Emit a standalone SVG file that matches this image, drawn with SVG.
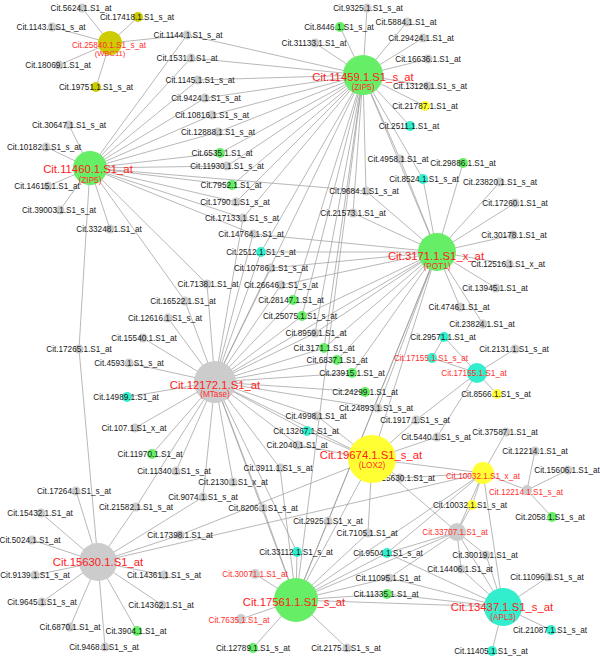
<svg xmlns="http://www.w3.org/2000/svg" width="600" height="657" viewBox="0 0 600 657">
<style>
text{font-family:"Liberation Sans",Arial,sans-serif;font-size:8.2px;fill:#1a1a1a;text-anchor:middle}
text.r{fill:#ff3030}
text.s{font-size:7.6px}
text.h{fill:#ff2020;font-size:11.3px}
.gr circle{fill:#cccccc}
.gn circle{fill:#66ee66}
.cy circle{fill:#33eecc}
.ye circle{fill:#ffff33}
.ol circle{fill:#cccc00}
#connectors line{stroke:#999;stroke-width:0.7}
</style>
<rect width="600" height="657" fill="#fff"/>
<g id="connectors">
<line x1="110" y1="43" x2="82" y2="8"/><line x1="110" y1="43" x2="138" y2="17"/><line x1="110" y1="43" x2="52" y2="27"/><line x1="110" y1="43" x2="59" y2="65"/><line x1="110" y1="43" x2="96" y2="87"/><line x1="110" y1="43" x2="187" y2="35"/>
<line x1="363" y1="75" x2="367" y2="8"/><line x1="363" y1="75" x2="340" y2="27"/><line x1="363" y1="75" x2="315" y2="43"/><line x1="363" y1="75" x2="407" y2="22"/><line x1="363" y1="75" x2="423" y2="38"/><line x1="363" y1="75" x2="428" y2="59"/><line x1="363" y1="75" x2="428" y2="86"/><line x1="363" y1="75" x2="425" y2="106"/><line x1="363" y1="75" x2="410" y2="126"/>
<line x1="363" y1="75" x2="187" y2="35"/><line x1="363" y1="75" x2="191" y2="58"/><line x1="363" y1="75" x2="198" y2="80"/><line x1="363" y1="75" x2="205" y2="98"/><line x1="363" y1="75" x2="212" y2="115"/><line x1="363" y1="75" x2="218" y2="132"/><line x1="363" y1="75" x2="220" y2="153"/><line x1="363" y1="75" x2="227" y2="166"/><line x1="363" y1="75" x2="232" y2="185"/><line x1="363" y1="75" x2="236" y2="202"/><line x1="363" y1="75" x2="243" y2="218"/>
<line x1="363" y1="75" x2="366" y2="191"/><line x1="363" y1="75" x2="400" y2="159"/><line x1="363" y1="75" x2="423" y2="179"/><line x1="363" y1="75" x2="353" y2="213"/><line x1="363" y1="75" x2="261" y2="252"/><line x1="363" y1="75" x2="293" y2="300"/><line x1="363" y1="75" x2="302" y2="316"/><line x1="363" y1="75" x2="315" y2="333"/><line x1="363" y1="75" x2="324" y2="348"/><line x1="363" y1="75" x2="215" y2="382"/><line x1="363" y1="75" x2="437" y2="252"/><line x1="363" y1="75" x2="296" y2="600"/>
<line x1="90" y1="168" x2="69" y2="125"/><line x1="90" y1="168" x2="46" y2="147"/><line x1="90" y1="168" x2="48" y2="186"/><line x1="90" y1="168" x2="60" y2="210"/><line x1="90" y1="168" x2="110" y2="229"/><line x1="90" y1="168" x2="79" y2="349"/><line x1="79" y1="349" x2="98" y2="562"/>
<line x1="90" y1="168" x2="187" y2="35"/><line x1="90" y1="168" x2="191" y2="58"/><line x1="90" y1="168" x2="198" y2="80"/><line x1="90" y1="168" x2="205" y2="98"/><line x1="90" y1="168" x2="212" y2="115"/><line x1="90" y1="168" x2="218" y2="132"/><line x1="90" y1="168" x2="220" y2="153"/><line x1="90" y1="168" x2="227" y2="166"/><line x1="90" y1="168" x2="232" y2="185"/><line x1="90" y1="168" x2="236" y2="202"/><line x1="90" y1="168" x2="243" y2="218"/><line x1="90" y1="168" x2="253" y2="234"/><line x1="90" y1="168" x2="366" y2="191"/><line x1="90" y1="168" x2="207" y2="284"/><line x1="90" y1="168" x2="185" y2="301"/>
<line x1="437" y1="252" x2="400" y2="159"/><line x1="437" y1="252" x2="423" y2="179"/><line x1="437" y1="252" x2="463" y2="163"/><line x1="437" y1="252" x2="500" y2="182"/><line x1="437" y1="252" x2="515" y2="203"/><line x1="437" y1="252" x2="513" y2="235"/><line x1="437" y1="252" x2="509" y2="264"/><line x1="437" y1="252" x2="496" y2="288"/><line x1="437" y1="252" x2="460" y2="307"/><line x1="437" y1="252" x2="483" y2="324"/><line x1="437" y1="252" x2="353" y2="213"/><line x1="437" y1="252" x2="366" y2="191"/>
<line x1="437" y1="252" x2="253" y2="234"/><line x1="437" y1="252" x2="261" y2="252"/><line x1="437" y1="252" x2="271" y2="268"/><line x1="437" y1="252" x2="281" y2="285"/><line x1="437" y1="252" x2="302" y2="316"/><line x1="437" y1="252" x2="315" y2="333"/><line x1="437" y1="252" x2="324" y2="348"/><line x1="437" y1="252" x2="337" y2="360"/><line x1="437" y1="252" x2="352" y2="373"/><line x1="437" y1="252" x2="378" y2="408"/><line x1="437" y1="252" x2="215" y2="382"/><line x1="437" y1="252" x2="372" y2="459"/><line x1="437" y1="252" x2="296" y2="600"/><line x1="437" y1="252" x2="328" y2="521"/>
<line x1="215" y1="382" x2="207" y2="284"/><line x1="215" y1="382" x2="185" y2="301"/><line x1="215" y1="382" x2="168" y2="318"/><line x1="215" y1="382" x2="143" y2="338"/><line x1="215" y1="382" x2="129" y2="363"/><line x1="215" y1="382" x2="127" y2="397"/><line x1="215" y1="382" x2="135" y2="428"/><line x1="215" y1="382" x2="152" y2="454"/><line x1="215" y1="382" x2="176" y2="471"/><line x1="215" y1="382" x2="233" y2="482"/><line x1="215" y1="382" x2="280" y2="468"/><line x1="215" y1="382" x2="298" y2="445"/><line x1="215" y1="382" x2="307" y2="431"/><line x1="215" y1="382" x2="317" y2="416"/><line x1="215" y1="382" x2="378" y2="408"/><line x1="215" y1="382" x2="365" y2="392"/><line x1="215" y1="382" x2="352" y2="373"/><line x1="215" y1="382" x2="337" y2="360"/><line x1="215" y1="382" x2="324" y2="348"/><line x1="215" y1="382" x2="315" y2="333"/><line x1="215" y1="382" x2="302" y2="316"/><line x1="215" y1="382" x2="293" y2="300"/><line x1="215" y1="382" x2="281" y2="285"/><line x1="215" y1="382" x2="271" y2="268"/><line x1="215" y1="382" x2="261" y2="252"/><line x1="215" y1="382" x2="253" y2="234"/><line x1="215" y1="382" x2="243" y2="218"/>
<line x1="215" y1="382" x2="136" y2="507"/><line x1="215" y1="382" x2="203" y2="497"/><line x1="215" y1="382" x2="263" y2="508"/><line x1="215" y1="382" x2="297" y2="552"/><line x1="215" y1="382" x2="372" y2="459"/><line x1="215" y1="382" x2="296" y2="600"/>
<line x1="372" y1="459" x2="317" y2="416"/><line x1="372" y1="459" x2="307" y2="431"/><line x1="372" y1="459" x2="298" y2="445"/><line x1="372" y1="459" x2="416" y2="420"/><line x1="372" y1="459" x2="437" y2="437"/><line x1="372" y1="459" x2="400" y2="478"/><line x1="372" y1="459" x2="483" y2="473"/><line x1="372" y1="459" x2="296" y2="600"/><line x1="372" y1="459" x2="180" y2="535"/><line x1="372" y1="459" x2="368" y2="533"/><line x1="372" y1="459" x2="457" y2="532"/>
<line x1="98" y1="562" x2="76" y2="491"/><line x1="98" y1="562" x2="41" y2="513"/><line x1="98" y1="562" x2="136" y2="507"/><line x1="98" y1="562" x2="32" y2="540"/><line x1="98" y1="562" x2="180" y2="535"/><line x1="98" y1="562" x2="35" y2="575"/><line x1="98" y1="562" x2="164" y2="575"/><line x1="98" y1="562" x2="42" y2="602"/><line x1="98" y1="562" x2="162" y2="605"/><line x1="98" y1="562" x2="70" y2="627"/><line x1="98" y1="562" x2="137" y2="631"/><line x1="98" y1="562" x2="105" y2="647"/><line x1="98" y1="562" x2="203" y2="497"/><line x1="98" y1="562" x2="483" y2="473"/>
<line x1="296" y1="600" x2="297" y2="552"/><line x1="296" y1="600" x2="255" y2="574"/><line x1="296" y1="600" x2="241" y2="619"/><line x1="296" y1="600" x2="253" y2="648"/><line x1="296" y1="600" x2="347" y2="648"/><line x1="296" y1="600" x2="387" y2="594"/><line x1="296" y1="600" x2="389" y2="578"/><line x1="296" y1="600" x2="387" y2="553"/><line x1="296" y1="600" x2="368" y2="533"/><line x1="296" y1="600" x2="328" y2="521"/><line x1="296" y1="600" x2="263" y2="508"/><line x1="296" y1="600" x2="280" y2="468"/><line x1="296" y1="600" x2="503" y2="607"/><line x1="296" y1="600" x2="457" y2="532"/><line x1="296" y1="600" x2="483" y2="473"/>
<line x1="503" y1="607" x2="457" y2="532"/><line x1="503" y1="607" x2="486" y2="555"/><line x1="503" y1="607" x2="461" y2="569"/><line x1="503" y1="607" x2="548" y2="577"/><line x1="503" y1="607" x2="551" y2="630"/><line x1="503" y1="607" x2="492" y2="651"/><line x1="503" y1="607" x2="483" y2="473"/><line x1="503" y1="607" x2="387" y2="594"/><line x1="503" y1="607" x2="389" y2="578"/><line x1="503" y1="607" x2="387" y2="553"/>
<line x1="457" y1="532" x2="486" y2="555"/><line x1="457" y1="532" x2="461" y2="569"/><line x1="457" y1="532" x2="387" y2="553"/><line x1="457" y1="532" x2="389" y2="578"/><line x1="457" y1="532" x2="483" y2="473"/><line x1="457" y1="532" x2="472" y2="505"/>
<line x1="483" y1="473" x2="506" y2="432"/><line x1="483" y1="473" x2="527" y2="490"/><line x1="483" y1="473" x2="400" y2="478"/><line x1="483" y1="473" x2="472" y2="505"/><line x1="483" y1="473" x2="387" y2="553"/>
<line x1="527" y1="490" x2="535" y2="451"/><line x1="527" y1="490" x2="568" y2="470"/><line x1="527" y1="490" x2="552" y2="517"/>
<line x1="477" y1="373" x2="444" y2="337"/><line x1="477" y1="373" x2="432" y2="358"/><line x1="477" y1="373" x2="515" y2="349"/><line x1="477" y1="373" x2="497" y2="394"/><line x1="477" y1="373" x2="416" y2="420"/><line x1="477" y1="373" x2="437" y2="437"/><line x1="444" y1="337" x2="432" y2="358"/>
</g>
<g id="n5624" class="gr"><circle cx="82" cy="8" r="4.5"/><text x="81" y="11">Cit.5624.1.S1_at</text></g>
<g id="n17418" class="ol"><circle cx="138" cy="17" r="5"/><text x="137" y="20">Cit.17418.1.S1_s_at</text></g>
<g id="n1143" class="gr"><circle cx="52" cy="27" r="4.5"/><text x="51" y="30">Cit.1143.1.S1_s_at</text></g>
<g id="n25840" class="ol"><circle cx="110" cy="43" r="12"/><text class="r" x="109" y="48">Cit.25840.1.S1_s_at</text><text class="r s" x="110" y="56">(WBC11)</text></g>
<g id="n18069" class="gr"><circle cx="59" cy="65" r="4.5"/><text x="58" y="68">Cit.18069.1.S1_at</text></g>
<g id="n19751" class="ol"><circle cx="96" cy="87" r="5"/><text x="96" y="90">Cit.19751.1.S1_s_at</text></g>
<g id="n1144" class="gr"><circle cx="187" cy="35" r="4.5"/><text x="188" y="38">Cit.1144.1.S1_s_at</text></g>
<g id="n1531" class="gr"><circle cx="191" cy="58" r="4.5"/><text x="187" y="61">Cit.1531.1.S1_at</text></g>
<g id="n1145" class="gr"><circle cx="198" cy="80" r="4.5"/><text x="200" y="83">Cit.1145.1.S1_s_at</text></g>
<g id="n9424" class="gr"><circle cx="205" cy="98" r="4.5"/><text x="206" y="101">Cit.9424.1.S1_s_at</text></g>
<g id="n10816" class="gr"><circle cx="212" cy="115" r="4.5"/><text x="212" y="118">Cit.10816.1.S1_s_at</text></g>
<g id="n12888" class="gr"><circle cx="218" cy="132" r="4.5"/><text x="218" y="135">Cit.12888.1.S1_s_at</text></g>
<g id="n6535" class="gn"><circle cx="220" cy="153" r="5"/><text x="222" y="156">Cit.6535.1.S1_at</text></g>
<g id="n11930" class="gr"><circle cx="227" cy="166" r="4.5"/><text x="227" y="169">Cit.11930.1.S1_s_at</text></g>
<g id="n7952" class="gn"><circle cx="232" cy="185" r="5"/><text x="231" y="188">Cit.7952.1.S1_at</text></g>
<g id="n1790" class="gr"><circle cx="236" cy="202" r="4.5"/><text x="235" y="205">Cit.1790.1.S1_s_at</text></g>
<g id="n17133" class="gr"><circle cx="243" cy="218" r="4.5"/><text x="242" y="221">Cit.17133.1.S1_s_at</text></g>
<g id="n14764" class="gr"><circle cx="253" cy="234" r="4.5"/><text x="251" y="237">Cit.14764.1.S1_at</text></g>
<g id="n2512" class="cy"><circle cx="261" cy="252" r="5"/><text x="261" y="255">Cit.2512.1.S1_s_at</text></g>
<g id="n10786" class="gr"><circle cx="271" cy="268" r="4.5"/><text x="271" y="271">Cit.10786.1.S1_s_at</text></g>
<g id="n26646" class="gr"><circle cx="281" cy="285" r="4.5"/><text x="281" y="288">Cit.26646.1.S1_s_at</text></g>
<g id="n28147" class="gn"><circle cx="293" cy="300" r="5"/><text x="291" y="303">Cit.28147.1.S1_at</text></g>
<g id="n25075" class="gn"><circle cx="302" cy="316" r="5"/><text x="300" y="319">Cit.25075.1.S1_s_at</text></g>
<g id="n9684" class="gr"><circle cx="366" cy="191" r="4.5"/><text x="364" y="194">Cit.9684.1.S1_s_at</text></g>
<g id="n21573" class="gr"><circle cx="353" cy="213" r="4.5"/><text x="353" y="216">Cit.21573.1.S1_at</text></g>
<g id="n9325" class="gr"><circle cx="367" cy="8" r="4.5"/><text x="368" y="11">Cit.9325.1.S1_s_at</text></g>
<g id="n8446" class="gn"><circle cx="340" cy="27" r="5"/><text x="339" y="30">Cit.8446.1.S1_s_at</text></g>
<g id="n31133" class="gr"><circle cx="315" cy="43" r="4.5"/><text x="314" y="46">Cit.31133.1.S1_at</text></g>
<g id="n11459" class="gn"><circle cx="363" cy="75" r="20"/><text class="h" x="363" y="81">Cit.11459.1.S1_s_at</text><text class="r" x="363" y="90">(ZIP5)</text></g>
<g id="n5884" class="gr"><circle cx="407" cy="22" r="4.5"/><text x="406" y="25">Cit.5884.1.S1_at</text></g>
<g id="n29424" class="gr"><circle cx="423" cy="38" r="4.5"/><text x="421" y="41">Cit.29424.1.S1_at</text></g>
<g id="n16636" class="gr"><circle cx="428" cy="59" r="4.5"/><text x="428" y="62">Cit.16636.1.S1_at</text></g>
<g id="n13128" class="gr"><circle cx="428" cy="86" r="4.5"/><text x="430" y="89">Cit.13128.1.S1_s_at</text></g>
<g id="n21787" class="ye"><circle cx="425" cy="106" r="5"/><text x="425" y="109">Cit.21787.1.S1_at</text></g>
<g id="n2511" class="cy"><circle cx="410" cy="126" r="5"/><text x="409" y="129">Cit.2511.1.S1_at</text></g>
<g id="n4958" class="gr"><circle cx="400" cy="159" r="4.5"/><text x="398" y="162">Cit.4958.1.S1_at</text></g>
<g id="n29886" class="gn"><circle cx="463" cy="163" r="5"/><text x="463" y="166">Cit.29886.1.S1_at</text></g>
<g id="n8524" class="cy"><circle cx="423" cy="179" r="5"/><text x="424" y="182">Cit.8524.1.S1_s_at</text></g>
<g id="n23820" class="gr"><circle cx="500" cy="182" r="4.5"/><text x="500" y="185">Cit.23820.1.S1_s_at</text></g>
<g id="n17260" class="gr"><circle cx="515" cy="203" r="4.5"/><text x="515" y="206">Cit.17260.1.S1_at</text></g>
<g id="n3171" class="gn"><circle cx="437" cy="252" r="19"/><text class="h" x="436" y="260">Cit.3171.1.S1_x_at</text><text class="r" x="437" y="269">(POT1)</text></g>
<g id="n30178" class="gr"><circle cx="513" cy="235" r="4.5"/><text x="514" y="238">Cit.30178.1.S1_at</text></g>
<g id="n12516" class="gr"><circle cx="509" cy="264" r="4.5"/><text x="508" y="267">Cit.12516.1.S1_x_at</text></g>
<g id="n13945" class="gr"><circle cx="496" cy="288" r="4.5"/><text x="495" y="291">Cit.13945.1.S1_at</text></g>
<g id="n4746" class="gr"><circle cx="460" cy="307" r="4.5"/><text x="459" y="310">Cit.4746.1.S1_at</text></g>
<g id="n23824" class="gr"><circle cx="483" cy="324" r="4.5"/><text x="482" y="327">Cit.23824.1.S1_at</text></g>
<g id="n30647" class="gr"><circle cx="69" cy="125" r="4.5"/><text x="69" y="128">Cit.30647.1.S1_s_at</text></g>
<g id="n10182" class="gr"><circle cx="46" cy="147" r="4.5"/><text x="44" y="150">Cit.10182.1.S1_s_at</text></g>
<g id="n11460" class="gn"><circle cx="90" cy="168" r="17"/><text class="h" x="88" y="173">Cit.11460.1.S1_at</text><text class="r" x="90" y="183">(ZIP5)</text></g>
<g id="n14615" class="gr"><circle cx="48" cy="186" r="4.5"/><text x="47" y="189">Cit.14615.1.S1_at</text></g>
<g id="n39003" class="gr"><circle cx="60" cy="210" r="4.5"/><text x="59" y="213">Cit.39003.1.S1_s_at</text></g>
<g id="n33248" class="gr"><circle cx="110" cy="229" r="4.5"/><text x="109" y="232">Cit.33248.1.S1_at</text></g>
<g id="n7138" class="gr"><circle cx="207" cy="284" r="4.5"/><text x="208" y="287">Cit.7138.1.S1_at</text></g>
<g id="n16522" class="gr"><circle cx="185" cy="301" r="4.5"/><text x="183" y="304">Cit.16522.1.S1_at</text></g>
<g id="n12616" class="gr"><circle cx="168" cy="318" r="4.5"/><text x="165" y="321">Cit.12616.1.S1_s_at</text></g>
<g id="n15540" class="gr"><circle cx="143" cy="338" r="4.5"/><text x="144" y="341">Cit.15540.1.S1_at</text></g>
<g id="n17265" class="gr"><circle cx="79" cy="349" r="4.5"/><text x="79" y="352">Cit.17265.1.S1_at</text></g>
<g id="n4593" class="gr"><circle cx="129" cy="363" r="4.5"/><text x="129" y="366">Cit.4593.1.S1_s_at</text></g>
<g id="n12172" class="gr"><circle cx="215" cy="382" r="21"/><text class="h" x="215" y="389">Cit.12172.1.S1_at</text><text class="r" x="215" y="397">(MTase)</text></g>
<g id="n14989" class="cy"><circle cx="127" cy="397" r="5"/><text x="126" y="400">Cit.14989.1.S1_at</text></g>
<g id="n107" class="gr"><circle cx="135" cy="428" r="4.5"/><text x="134" y="431">Cit.107.1.S1_x_at</text></g>
<g id="n11970" class="gn"><circle cx="152" cy="454" r="5"/><text x="150" y="457">Cit.11970.1.S1_at</text></g>
<g id="n11340" class="gr"><circle cx="176" cy="471" r="4.5"/><text x="174" y="474">Cit.11340.1.S1_s_at</text></g>
<g id="n17264" class="gr"><circle cx="76" cy="491" r="4.5"/><text x="74" y="494">Cit.17264.1.S1_s_at</text></g>
<g id="n8959" class="gr"><circle cx="315" cy="333" r="4.5"/><text x="316" y="336">Cit.8959.1.S1_at</text></g>
<g id="n3171b" class="gn"><circle cx="324" cy="348" r="5"/><text x="324" y="351">Cit.3171.1.S1_at</text></g>
<g id="n6837" class="gn"><circle cx="337" cy="360" r="5"/><text x="337" y="363">Cit.6837.1.S1_at</text></g>
<g id="n23915" class="gn"><circle cx="352" cy="373" r="5"/><text x="352" y="376">Cit.23915.1.S1_at</text></g>
<g id="n24299" class="gn"><circle cx="365" cy="392" r="5"/><text x="365" y="395">Cit.24299.1.S1_at</text></g>
<g id="n24893" class="gr"><circle cx="378" cy="408" r="4.5"/><text x="376" y="411">Cit.24893.1.S1_s_at</text></g>
<g id="n4998" class="gr"><circle cx="317" cy="416" r="4.5"/><text x="316" y="419">Cit.4998.1.S1_at</text></g>
<g id="n13267" class="cy"><circle cx="307" cy="431" r="5"/><text x="306" y="434">Cit.13267.1.S1_at</text></g>
<g id="n2040" class="gr"><circle cx="298" cy="445" r="4.5"/><text x="297" y="448">Cit.2040.1.S1_at</text></g>
<g id="n3911" class="gr"><circle cx="280" cy="468" r="4.5"/><text x="278" y="471">Cit.3911.1.S1_s_at</text></g>
<g id="n2130" class="gr"><circle cx="233" cy="482" r="4.5"/><text x="233" y="485">Cit.2130.1.S1_x_at</text></g>
<g id="n1917" class="gr"><circle cx="416" cy="420" r="4.5"/><text x="415" y="423">Cit.1917.1.S1_s_at</text></g>
<g id="n5440" class="gr"><circle cx="437" cy="437" r="4.5"/><text x="436" y="440">Cit.5440.1.S1_s_at</text></g>
<g id="n25630" class="gr"><circle cx="400" cy="478" r="4.5"/><text x="402" y="481">Cit.25630.1.S1_at</text></g>
<g id="n19674" class="ye"><circle cx="372" cy="459" r="24"/><text class="h" x="371" y="459">Cit.19674.1.S1_s_at</text><text class="r" x="372" y="468">(LOX2)</text></g>
<g id="n29571" class="cy"><circle cx="444" cy="337" r="5"/><text x="443" y="340">Cit.29571.1.S1_at</text></g>
<g id="n17155s" class="cy"><circle cx="432" cy="358" r="5"/><text class="r" x="431" y="361">Cit.17155.1.S1_s_at</text></g>
<g id="n17155" class="cy"><circle cx="477" cy="373" r="10"/><text class="r" x="474" y="376">Cit.17155.1.S1_at</text></g>
<g id="n2131" class="gr"><circle cx="515" cy="349" r="4.5"/><text x="514" y="352">Cit.2131.1.S1_s_at</text></g>
<g id="n8566" class="ye"><circle cx="497" cy="394" r="5"/><text x="496" y="397">Cit.8566.1.S1_s_at</text></g>
<g id="n37587" class="gr"><circle cx="506" cy="432" r="4.5"/><text x="505" y="435">Cit.37587.1.S1_at</text></g>
<g id="n12214" class="gr"><circle cx="535" cy="451" r="4.5"/><text x="535" y="454">Cit.12214.1.S1_at</text></g>
<g id="n15606" class="gr"><circle cx="568" cy="470" r="4.5"/><text x="567" y="473">Cit.15606.1.S1_at</text></g>
<g id="n10032x" class="ye"><circle cx="483" cy="473" r="11"/><text class="r" x="483" y="479">Cit.10032.1.S1_x_at</text></g>
<g id="n12214s" class="gr"><circle cx="527" cy="490" r="5"/><text class="r" x="526" y="495">Cit.12214.1.S1_s_at</text></g>
<g id="n10032s" class="ye"><circle cx="472" cy="505" r="5"/><text x="470" y="508">Cit.10032.1.S1_s_at</text></g>
<g id="n2058" class="gn"><circle cx="552" cy="517" r="5"/><text x="550" y="520">Cit.2058.1.S1_s_at</text></g>
<g id="n33707" class="gr"><circle cx="457" cy="532" r="9"/><text class="r" x="455" y="535">Cit.33707.1.S1_at</text></g>
<g id="n30019" class="gr"><circle cx="486" cy="555" r="4.5"/><text x="485" y="558">Cit.30019.1.S1_at</text></g>
<g id="n14406" class="gr"><circle cx="461" cy="569" r="4.5"/><text x="460" y="572">Cit.14406.1.S1_at</text></g>
<g id="n11096" class="gr"><circle cx="548" cy="577" r="4.5"/><text x="547" y="580">Cit.11096.1.S1_s_at</text></g>
<g id="n13437" class="cy"><circle cx="503" cy="607" r="19"/><text class="h" x="502" y="611">Cit.13437.1.S1_s_at</text><text class="r" x="503" y="620">(APL3)</text></g>
<g id="n21087" class="cy"><circle cx="551" cy="630" r="5"/><text x="550" y="633">Cit.21087.1.S1_s_at</text></g>
<g id="n11405" class="cy"><circle cx="492" cy="651" r="5"/><text x="491" y="654">Cit.11405.1.S1_s_at</text></g>
<g id="n9504" class="cy"><circle cx="387" cy="553" r="5"/><text x="388" y="556">Cit.9504.1.S1_s_at</text></g>
<g id="n11095" class="gr"><circle cx="389" cy="578" r="4.5"/><text x="388" y="581">Cit.11095.1.S1_at</text></g>
<g id="n11335" class="gn"><circle cx="387" cy="594" r="5"/><text x="386" y="597">Cit.11335.1.S1_at</text></g>
<g id="n7105" class="gr"><circle cx="368" cy="533" r="4.5"/><text x="367" y="536">Cit.7105.1.S1_at</text></g>
<g id="n2925" class="gr"><circle cx="328" cy="521" r="4.5"/><text x="328" y="524">Cit.2925.1.S1_x_at</text></g>
<g id="n8206" class="gr"><circle cx="263" cy="508" r="4.5"/><text x="263" y="511">Cit.8206.1.S1_s_at</text></g>
<g id="n33112" class="cy"><circle cx="297" cy="552" r="5"/><text x="296" y="555">Cit.33112.1.S1_s_at</text></g>
<g id="n30071" class="gr"><circle cx="255" cy="574" r="5"/><text class="r" x="255" y="577">Cit.30071.1.S1_at</text></g>
<g id="n17561" class="gn"><circle cx="296" cy="600" r="22"/><text class="h" x="294" y="606">Cit.17561.1.S1_s_at</text></g>
<g id="n7635" class="gr"><circle cx="241" cy="619" r="5"/><text class="r" x="239" y="623">Cit.7635.1.S1_at</text></g>
<g id="n12789" class="gn"><circle cx="253" cy="648" r="5"/><text x="253" y="651">Cit.12789.1.S1_s_at</text></g>
<g id="n2175" class="gr"><circle cx="347" cy="648" r="4.5"/><text x="346" y="651">Cit.2175.1.S1_s_at</text></g>
<g id="n15630" class="gr"><circle cx="98" cy="562" r="19"/><text class="h" x="98" y="566">Cit.15630.1.S1_at</text></g>
<g id="n15432" class="gr"><circle cx="41" cy="513" r="4.5"/><text x="40" y="516">Cit.15432.1.S1_at</text></g>
<g id="n21582" class="gr"><circle cx="136" cy="507" r="4.5"/><text x="136" y="510">Cit.21582.1.S1_s_at</text></g>
<g id="n9074" class="gr"><circle cx="203" cy="497" r="4.5"/><text x="203" y="500">Cit.9074.1.S1_s_at</text></g>
<g id="n5024" class="gr"><circle cx="32" cy="540" r="4.5"/><text x="30" y="543">Cit.5024.1.S1_at</text></g>
<g id="n17398" class="gr"><circle cx="180" cy="535" r="4.5"/><text x="180" y="538">Cit.17398.1.S1_at</text></g>
<g id="n9139" class="gr"><circle cx="35" cy="575" r="4.5"/><text x="35" y="578">Cit.9139.1.S1_s_at</text></g>
<g id="n14361" class="gr"><circle cx="164" cy="575" r="4.5"/><text x="164" y="578">Cit.14361.1.S1_s_at</text></g>
<g id="n9645" class="gr"><circle cx="42" cy="602" r="4.5"/><text x="42" y="605">Cit.9645.1.S1_s_at</text></g>
<g id="n14362" class="gr"><circle cx="162" cy="605" r="4.5"/><text x="161" y="608">Cit.14362.1.S1_at</text></g>
<g id="n6870" class="gr"><circle cx="70" cy="627" r="4.5"/><text x="70" y="630">Cit.6870.1.S1_at</text></g>
<g id="n3904" class="gn"><circle cx="137" cy="631" r="5"/><text x="136" y="634">Cit.3904.1.S1_at</text></g>
<g id="n9468" class="gr"><circle cx="105" cy="647" r="4.5"/><text x="104" y="650">Cit.9468.1.S1_s_at</text></g>
</svg>
